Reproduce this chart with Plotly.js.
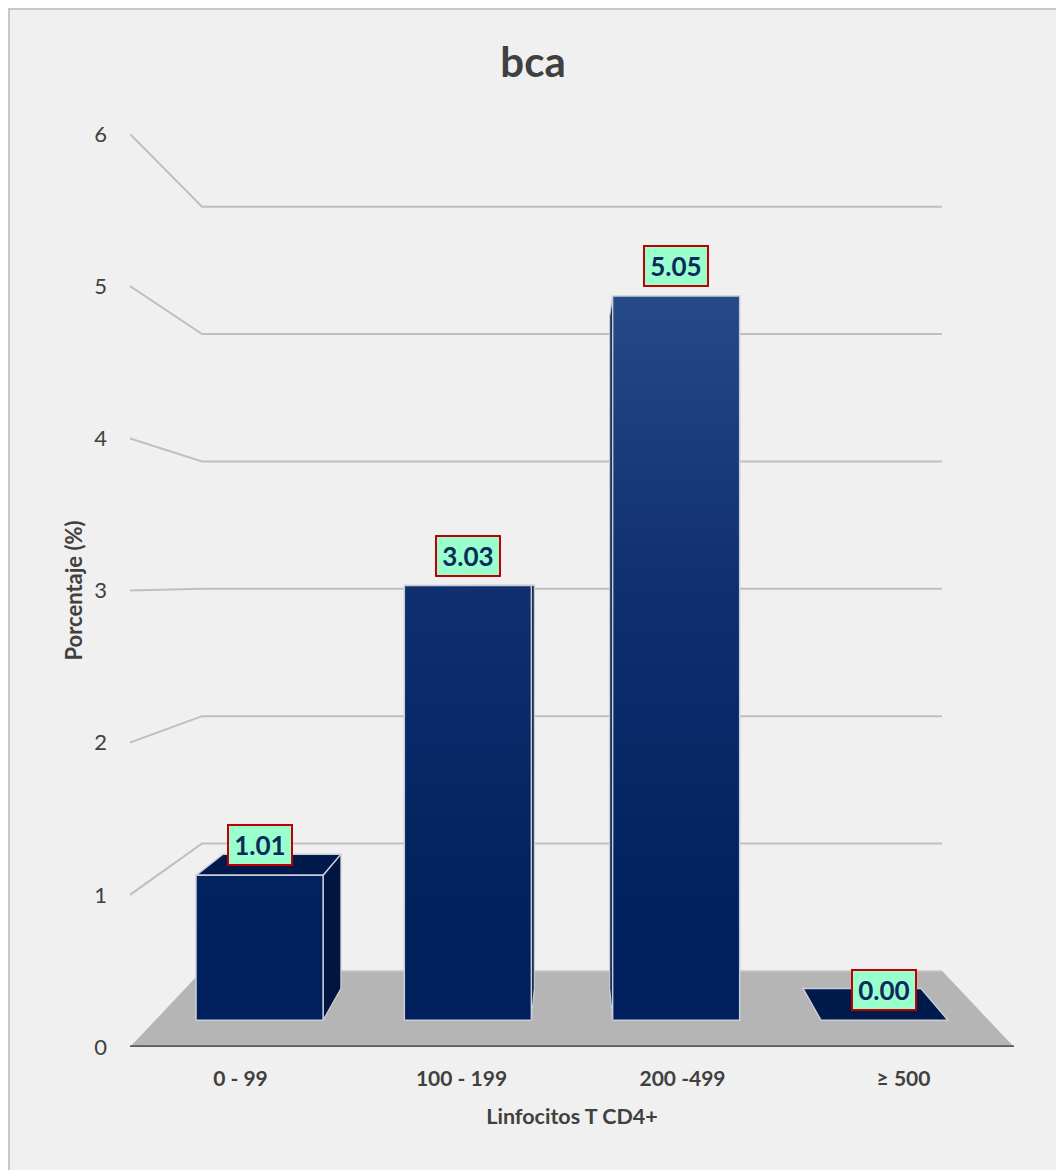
<!DOCTYPE html>
<html>
<head>
<meta charset="utf-8">
<script src="https://cdn.plot.ly/plotly-3.0.1.min.js"></script>
<style>
  html, body { margin: 0; padding: 0; background: #ffffff; overflow: hidden; }
  #frame {
    position: absolute; left: 8px; top: 8px;
    width: 1046px; height: 1160px;
    border-left: 2px solid #c8c8c8; border-top: 2px solid #c8c8c8;
    background: #f0f0f0;
  }
  #chart { width: 1046px; height: 1160px; }
</style>
</head>
<body>
<div id="frame"><div id="chart"></div></div>
<script>
// ---- data ----
const categories = ['0 - 99', '100 - 199', '200 -499', '\u2265 500'];
const values = [1.01, 3.03, 5.05, 0.00];
const yTickValues = [0, 1, 2, 3, 4, 5, 6];

// ---- pseudo-3D projection (one vanishing point, in axis units) ----
const VP = { x: 1.5, y: 3.07 };
const S_FRONT = 1.0;      // front edge of the floor
const S_WALL = 0.837;     // back wall
const S_BAR_FRONT = 0.9425;
const S_BAR_BACK = 0.875;
const HALF_W = 0.305;     // half bar width in category units
const X_MIN = -0.5, X_MAX = categories.length - 0.5;

function proj(x, y, s) {
  return [VP.x + (x - VP.x) * s, VP.y + (y - VP.y) * s];
}

function polygon(pts, fill, lineColor, lineWidth, extra) {
  const xs = pts.map(p => p[0]); xs.push(pts[0][0]);
  const ys = pts.map(p => p[1]); ys.push(pts[0][1]);
  return Object.assign({
    type: 'scatter', mode: 'lines', x: xs, y: ys,
    fill: 'toself', fillcolor: fill,
    line: { color: lineColor, width: lineWidth },
    hoverinfo: 'skip', showlegend: false
  }, extra || {});
}

function polyline(pts, color, width) {
  return {
    type: 'scatter', mode: 'lines',
    x: pts.map(p => p[0]), y: pts.map(p => p[1]),
    line: { color: color, width: width },
    hoverinfo: 'skip', showlegend: false
  };
}

const traces = [];

// floor
traces.push(polygon([
  proj(X_MIN, 0, S_FRONT), proj(X_MAX, 0, S_FRONT),
  proj(X_MAX, 0, S_WALL), proj(X_MIN, 0, S_WALL)
], '#b5b5b5', 'rgba(0,0,0,0)', 0));
traces.push(polyline([proj(X_MIN, 0, S_WALL), proj(X_MAX, 0, S_WALL)], '#d2d2d2', 1.5));
traces.push(polyline([proj(X_MIN, 0, S_FRONT), proj(X_MAX, 0, S_FRONT)], '#595959', 3.5));

// gridlines on the side wall and back wall
yTickValues.filter(v => v > 0).forEach(v => {
  traces.push(polyline([
    proj(X_MIN, v, S_FRONT), proj(X_MIN, v, S_WALL), proj(X_MAX, v, S_WALL)
  ], '#bfbfbf', 2));
});

// bars
const EDGE = '#c9ced8';
const frontGradient = {
  type: 'vertical', start: 0, stop: 5,
  colorscale: [[0, '#011f5d'], [0.2, '#02215f'], [0.6, '#0f2f6e'], [1, '#284a88']]
};

values.forEach((v, i) => {
  const xl = i - HALF_W, xr = i + HALF_W;
  // side face (facing the vanishing point)
  const sx = i < VP.x ? xr : xl;
  if (v > 0) {
    traces.push(polygon([
      proj(sx, 0, S_BAR_FRONT), proj(sx, v, S_BAR_FRONT),
      proj(sx, v, S_BAR_BACK), proj(sx, 0, S_BAR_BACK)
    ], '#00153f', EDGE, 1.2));
  }
  // top face, seen only when below eye level
  if (v < VP.y) {
    traces.push(polygon([
      proj(xl, v, S_BAR_FRONT), proj(xr, v, S_BAR_FRONT),
      proj(xr, v, S_BAR_BACK), proj(xl, v, S_BAR_BACK)
    ], '#001a4b', EDGE, 1.5));
  }
  // front face
  if (v > 0) {
    traces.push(polygon([
      proj(xl, 0, S_BAR_FRONT), proj(xr, 0, S_BAR_FRONT),
      proj(xr, v, S_BAR_FRONT), proj(xl, v, S_BAR_FRONT)
    ], '#02215f', EDGE, 1.5, { fillgradient: frontGradient }));
  }
});

// value labels
const annotations = values.map((v, i) => {
  const p = proj(i, v, S_BAR_FRONT);
  return {
    x: p[0], y: p[1], xref: 'x', yref: 'y',
    text: v.toFixed(2), showarrow: false,
    xanchor: 'center', yanchor: 'bottom', yshift: 9,
    width: 58, height: 34, align: 'center', valign: 'middle',
    bgcolor: '#99ffcc', bordercolor: '#c00000', borderwidth: 2, borderpad: 2,
    font: { family: 'Lato, "Open Sans", sans-serif', size: 26, color: '#0b2a5c', weight: 'bold' }
  };
});

const layout = {
  width: 1046, height: 1160,
  margin: { l: 120, r: 42, t: 124, b: 123 },
  paper_bgcolor: '#f0f0f0', plot_bgcolor: 'rgba(0,0,0,0)',
  font: { family: 'Lato, "Open Sans", sans-serif', color: '#404040' },
  title: {
    text: 'bca', xref: 'container', x: 0.5, yref: 'container', y: 0.955, yanchor: 'middle',
    font: { size: 42, color: '#404040', weight: 'bold' }
  },
  xaxis: {
    range: [X_MIN, X_MAX], fixedrange: true,
    tickvals: categories.map((c, i) => i), ticktext: categories,
    showgrid: false, zeroline: false, showline: false, ticks: '',
    ticklabelstandoff: 17,
    tickfont: { size: 21, color: '#404040', weight: 'bold' },
    automargin: true,
    title: { text: 'Linfocitos T CD4+', standoff: 19, font: { size: 21.5, color: '#404040', weight: 'bold' } }
  },
  yaxis: {
    range: [0, 6], fixedrange: true,
    tickvals: yTickValues,
    showgrid: false, zeroline: false, showline: false, ticks: '',
    ticklabelstandoff: 22,
    tickfont: { size: 22, color: '#404040' },
    automargin: true,
    title: { text: 'Porcentaje (%)', standoff: 5, font: { size: 22, color: '#404040', weight: 'bold' } }
  },
  annotations: annotations,
  showlegend: false
};

Plotly.newPlot('chart', traces, layout, { displayModeBar: false, staticPlot: true });
</script>
</body>
</html>
